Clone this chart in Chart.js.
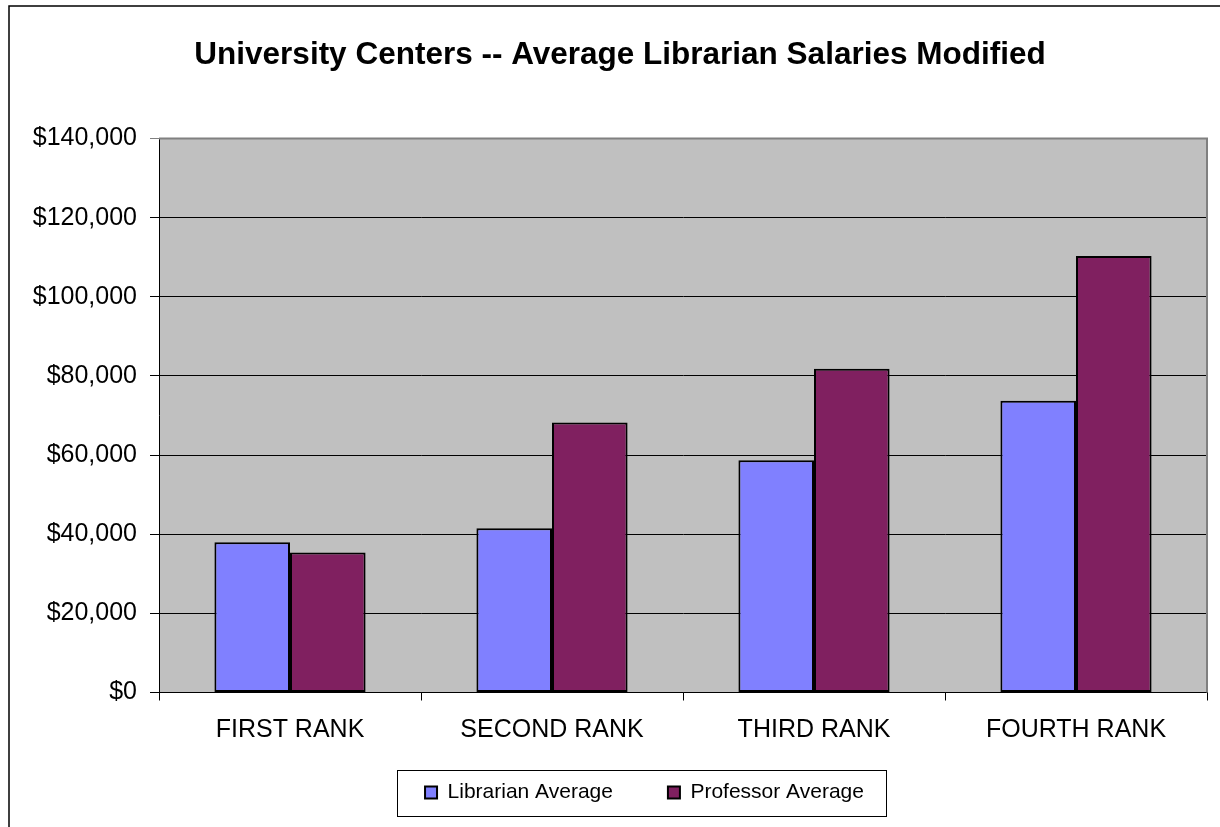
<!DOCTYPE html>
<html>
<head>
<meta charset="utf-8">
<script src="https://cdn.jsdelivr.net/npm/chart.js@4"></script>
<style>
  html, body { margin: 0; padding: 0; background: #fff; }
  canvas { display: block; }
</style>
</head>
<body>
<canvas id="myChart" width="1220" height="827"></canvas>
<script>
  // datos
  const ranks = ['FIRST RANK', 'SECOND RANK', 'THIRD RANK', 'FOURTH RANK'];
  const librarianAvg = [38000, 41500, 58700, 73700];
  const professorAvg = [35400, 68200, 81800, 110300];
  const titleText = 'University Centers -- Average Librarian Salaries Modified';

  Chart.defaults.font.family = '"Liberation Sans", Arial, sans-serif';
  Chart.defaults.color = '#000';

  // fondo, borde exterior, titulo y caja de la leyenda
  const decor = {
    id: 'decor',
    beforeDraw(chart) {
      const c = chart.ctx;
      const a = chart.chartArea;
      // mover la leyenda a su sitio (solo el borde superior en vertical)
      const lg = chart.legend;
      const dx = 26, dy = -18.5;
      lg.left += dx; lg.right += dx; lg.top += dy;
      (lg.legendHitBoxes || []).forEach(h => { h.left += dx; h.top += dy; });

      c.save();
      c.fillStyle = '#fff';
      c.fillRect(0, 0, chart.width, chart.height);
      c.strokeStyle = '#000';
      c.lineWidth = 1.5;
      c.strokeRect(9, 6, chart.width + 20, chart.height + 20);
      c.fillStyle = '#C0C0C0';
      c.fillRect(a.left, a.top, a.right - a.left, a.bottom - a.top);
      c.restore();
    },
    beforeDatasetsDraw(chart) {
      const c = chart.ctx;
      const a = chart.chartArea;
      c.save();
      c.strokeStyle = '#808080';
      c.lineWidth = 2;
      c.beginPath();
      c.moveTo(a.left, a.top);
      c.lineTo(a.right, a.top);
      c.lineTo(a.right, a.bottom);
      c.stroke();
      c.restore();
    },
    afterDraw(chart) {
      const c = chart.ctx;
      c.save();
      c.fillStyle = '#000';
      c.font = 'bold 31.5px "Liberation Sans", Arial, sans-serif';
      c.textAlign = 'center';
      c.textBaseline = 'middle';
      c.fillText(titleText, 620, 55);
      const hb = chart.legend.legendHitBoxes;
      if (hb && hb.length) {
        const first = hb[0];
        const last = hb[hb.length - 1];
        const cy = first.top + first.height / 2;
        c.strokeStyle = '#000';
        c.lineWidth = 1;
        c.strokeRect(Math.round(first.left - 28) + 0.5, Math.round(cy - 23) + 0.5,
          Math.round(last.left + last.width + 22 - (first.left - 28)), 46);
      }
      c.restore();
    }
  };

  new Chart(document.getElementById('myChart'), {
    type: 'bar',
    data: {
      labels: ranks,
      datasets: [{
        label: 'Librarian Average',
        data: librarianAvg,
        backgroundColor: '#8080FF',
        borderColor: '#000',
        borderWidth: 2,
        borderSkipped: false
      }, {
        label: 'Professor Average',
        data: professorAvg,
        backgroundColor: '#802060',
        borderColor: '#000',
        borderWidth: 2,
        borderSkipped: false
      }]
    },
    options: {
      responsive: false,
      animation: false,
      layout: { padding: { top: 138.5, left: 30, right: 13, bottom: 14 } },
      datasets: { bar: { categoryPercentage: 0.577, barPercentage: 1 } },
      plugins: {
        title: { display: false },
        tooltip: { enabled: false },
        legend: {
          position: 'bottom',
          maxHeight: 67.5,
          labels: {
            font: { size: 21 },
            boxWidth: 12,
            boxHeight: 12,
            padding: 55,
            color: '#000'
          }
        }
      },
      scales: {
        x: {
          afterFit(scale) { scale.height = 53; },
          grid: {
            offset: true,
            drawOnChartArea: false,
            color: '#000',
            tickLength: 8
          },
          border: { color: '#000', width: 1 },
          ticks: { font: { size: 25 }, padding: 15, color: '#000' }
        },
        y: {
          min: 0,
          max: 140000,
          afterFit(scale) { scale.width = 129; },
          grid: {
            color: (ctx) => (ctx.tick && ctx.tick.value === 140000 ? '#808080' : '#000'),
            tickLength: 9
          },
          border: { color: '#000', width: 1 },
          ticks: {
            stepSize: 20000,
            font: { size: 25 },
            padding: 13,
            color: '#000',
            callback: (v) => '$' + v.toLocaleString('en-US')
          }
        }
      }
    },
    plugins: [decor]
  });
</script>
</body>
</html>
